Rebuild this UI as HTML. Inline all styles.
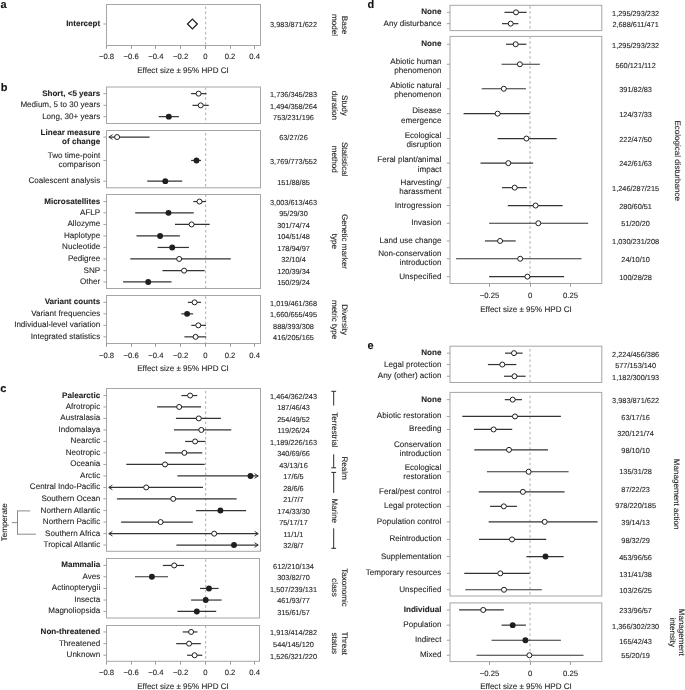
<!DOCTYPE html>
<html><head><meta charset="utf-8"><title>Figure</title>
<style>
html,body{margin:0;padding:0;background:#fff;}
body{width:685px;height:690px;overflow:hidden;}
svg{display:block;font-family:"Liberation Sans",sans-serif;filter:grayscale(1);text-rendering:geometricPrecision;}
text{stroke:#231f20;stroke-width:0.1px;}
</style></head>
<body>
<svg width="685" height="690" viewBox="0 0 685 690">
<rect x="0" y="0" width="685" height="690" fill="#fff"/>
<rect x="106.50" y="4.50" width="154.00" height="41.00" fill="none" stroke="#a6a6a6" stroke-width="1.0"/>
<line x1="205.70" y1="5.00" x2="205.70" y2="45.00" stroke="#acacac" stroke-width="1.0" stroke-dasharray="2.6,2.50" stroke-dashoffset="3.70"/>
<line x1="103.40" y1="24.00" x2="106.50" y2="24.00" stroke="#9a9a9a" stroke-width="0.9"/>
<line x1="192.40" y1="24.00" x2="192.40" y2="24.00" stroke="#333333" stroke-width="1.2"/>
<polygon points="192.40,19.10 197.30,24.00 192.40,28.90 187.50,24.00" fill="#fff" stroke="#1f1f1f" stroke-width="1.25"/>
<text x="100.20" y="26.00" font-size="8.07" text-anchor="end" font-weight="bold" fill="#231f20">Intercept</text>
<text x="293.50" y="27.35" font-size="7.35" text-anchor="middle" fill="#231f20">3,983/871/622</text>
<line x1="106.50" y1="45.50" x2="106.50" y2="48.80" stroke="#9a9a9a" stroke-width="1.0"/>
<text x="106.50" y="59.20" font-size="7.7" text-anchor="middle" fill="#231f20">−0.8</text>
<line x1="131.50" y1="45.50" x2="131.50" y2="48.80" stroke="#9a9a9a" stroke-width="1.0"/>
<text x="131.20" y="59.20" font-size="7.7" text-anchor="middle" fill="#231f20">−0.6</text>
<line x1="155.50" y1="45.50" x2="155.50" y2="48.80" stroke="#9a9a9a" stroke-width="1.0"/>
<text x="155.90" y="59.20" font-size="7.7" text-anchor="middle" fill="#231f20">−0.4</text>
<line x1="180.50" y1="45.50" x2="180.50" y2="48.80" stroke="#9a9a9a" stroke-width="1.0"/>
<text x="180.60" y="59.20" font-size="7.7" text-anchor="middle" fill="#231f20">−0.2</text>
<line x1="205.50" y1="45.50" x2="205.50" y2="48.80" stroke="#9a9a9a" stroke-width="1.0"/>
<text x="205.40" y="59.20" font-size="7.7" text-anchor="middle" fill="#231f20">0</text>
<line x1="230.50" y1="45.50" x2="230.50" y2="48.80" stroke="#9a9a9a" stroke-width="1.0"/>
<text x="230.00" y="59.20" font-size="7.7" text-anchor="middle" fill="#231f20">0.2</text>
<line x1="254.50" y1="45.50" x2="254.50" y2="48.80" stroke="#9a9a9a" stroke-width="1.0"/>
<text x="254.70" y="59.20" font-size="7.7" text-anchor="middle" fill="#231f20">0.4</text>
<text x="183.00" y="72.60" font-size="8.07" text-anchor="middle" fill="#231f20">Effect size ± 95% HPD CI</text>
<rect x="106.50" y="87.00" width="154.00" height="36.50" fill="none" stroke="#a6a6a6" stroke-width="1.0"/>
<line x1="205.70" y1="87.50" x2="205.70" y2="123.00" stroke="#acacac" stroke-width="1.0" stroke-dasharray="2.6,2.50" stroke-dashoffset="0.40"/>
<rect x="106.50" y="130.50" width="154.00" height="57.30" fill="none" stroke="#a6a6a6" stroke-width="1.0"/>
<line x1="205.70" y1="131.00" x2="205.70" y2="187.30" stroke="#acacac" stroke-width="1.0" stroke-dasharray="2.6,2.50" stroke-dashoffset="3.10"/>
<rect x="106.50" y="194.50" width="154.00" height="94.00" fill="none" stroke="#a6a6a6" stroke-width="1.0"/>
<line x1="205.70" y1="195.00" x2="205.70" y2="288.00" stroke="#acacac" stroke-width="1.0" stroke-dasharray="2.6,2.50" stroke-dashoffset="0.80"/>
<rect x="106.50" y="295.50" width="154.00" height="48.00" fill="none" stroke="#a6a6a6" stroke-width="1.0"/>
<line x1="205.70" y1="296.00" x2="205.70" y2="343.00" stroke="#acacac" stroke-width="1.0" stroke-dasharray="2.6,2.50" stroke-dashoffset="4.90"/>
<line x1="103.40" y1="93.65" x2="106.50" y2="93.65" stroke="#9a9a9a" stroke-width="0.9"/>
<line x1="191.10" y1="93.65" x2="206.50" y2="93.65" stroke="#333333" stroke-width="1.2"/>
<circle cx="198.60" cy="93.65" r="2.5" fill="#fff" stroke="#1f1f1f" stroke-width="1.0"/>
<text x="100.20" y="95.65" font-size="8.07" text-anchor="end" font-weight="bold" fill="#231f20">Short, &lt;5 years</text>
<text x="293.50" y="97.00" font-size="7.35" text-anchor="middle" fill="#231f20">1,736/345/283</text>
<line x1="103.40" y1="105.35" x2="106.50" y2="105.35" stroke="#9a9a9a" stroke-width="0.9"/>
<line x1="192.50" y1="105.35" x2="208.70" y2="105.35" stroke="#333333" stroke-width="1.2"/>
<circle cx="200.70" cy="105.35" r="2.5" fill="#fff" stroke="#1f1f1f" stroke-width="1.0"/>
<text x="100.20" y="107.35" font-size="8.07" text-anchor="end" fill="#231f20">Medium, 5 to 30 years</text>
<text x="293.50" y="108.70" font-size="7.35" text-anchor="middle" fill="#231f20">1,494/358/264</text>
<line x1="103.40" y1="116.65" x2="106.50" y2="116.65" stroke="#9a9a9a" stroke-width="0.9"/>
<line x1="158.70" y1="116.65" x2="178.90" y2="116.65" stroke="#333333" stroke-width="1.2"/>
<circle cx="168.80" cy="116.65" r="2.95" fill="#1f1f1f"/>
<text x="100.20" y="118.65" font-size="8.07" text-anchor="end" fill="#231f20">Long, 30+ years</text>
<text x="293.50" y="120.00" font-size="7.35" text-anchor="middle" fill="#231f20">753/231/196</text>
<line x1="103.40" y1="137.05" x2="106.50" y2="137.05" stroke="#9a9a9a" stroke-width="0.9"/>
<line x1="108.90" y1="137.05" x2="149.60" y2="137.05" stroke="#333333" stroke-width="1.2"/>
<polyline points="112.50,134.75 108.90,137.05 112.50,139.35" fill="none" stroke="#333333" stroke-width="1"/>
<circle cx="117.10" cy="137.05" r="2.5" fill="#fff" stroke="#1f1f1f" stroke-width="1.0"/>
<text x="100.20" y="134.90" font-size="8.07" text-anchor="end" font-weight="bold" fill="#231f20">Linear measure</text>
<text x="100.20" y="144.30" font-size="8.07" text-anchor="end" font-weight="bold" fill="#231f20">of change</text>
<text x="293.50" y="140.40" font-size="7.35" text-anchor="middle" fill="#231f20">63/27/26</text>
<line x1="103.40" y1="160.45" x2="106.50" y2="160.45" stroke="#9a9a9a" stroke-width="0.9"/>
<line x1="191.10" y1="160.45" x2="201.00" y2="160.45" stroke="#333333" stroke-width="1.2"/>
<circle cx="196.50" cy="160.45" r="2.95" fill="#1f1f1f"/>
<text x="100.20" y="158.00" font-size="8.07" text-anchor="end" fill="#231f20">Two time-point</text>
<text x="100.20" y="167.40" font-size="8.07" text-anchor="end" fill="#231f20">comparison</text>
<text x="293.50" y="163.80" font-size="7.35" text-anchor="middle" fill="#231f20">3,769/773/552</text>
<line x1="103.40" y1="181.15" x2="106.50" y2="181.15" stroke="#9a9a9a" stroke-width="0.9"/>
<line x1="147.20" y1="181.15" x2="182.20" y2="181.15" stroke="#333333" stroke-width="1.2"/>
<circle cx="165.30" cy="181.15" r="2.95" fill="#1f1f1f"/>
<text x="100.20" y="183.15" font-size="8.07" text-anchor="end" fill="#231f20">Coalescent analysis</text>
<text x="293.50" y="184.50" font-size="7.35" text-anchor="middle" fill="#231f20">151/88/85</text>
<line x1="103.40" y1="201.55" x2="106.50" y2="201.55" stroke="#9a9a9a" stroke-width="0.9"/>
<line x1="193.30" y1="201.55" x2="206.00" y2="201.55" stroke="#333333" stroke-width="1.2"/>
<circle cx="199.50" cy="201.55" r="2.5" fill="#fff" stroke="#1f1f1f" stroke-width="1.0"/>
<text x="100.20" y="203.55" font-size="8.07" text-anchor="end" font-weight="bold" fill="#231f20">Microsatellites</text>
<text x="293.50" y="204.90" font-size="7.35" text-anchor="middle" fill="#231f20">3,003/613/463</text>
<line x1="103.40" y1="212.85" x2="106.50" y2="212.85" stroke="#9a9a9a" stroke-width="0.9"/>
<line x1="135.20" y1="212.85" x2="193.80" y2="212.85" stroke="#333333" stroke-width="1.2"/>
<circle cx="168.50" cy="212.85" r="2.95" fill="#1f1f1f"/>
<text x="100.20" y="214.85" font-size="8.07" text-anchor="end" fill="#231f20">AFLP</text>
<text x="293.50" y="216.20" font-size="7.35" text-anchor="middle" fill="#231f20">95/29/30</text>
<line x1="103.40" y1="224.45" x2="106.50" y2="224.45" stroke="#9a9a9a" stroke-width="0.9"/>
<line x1="175.00" y1="224.45" x2="209.70" y2="224.45" stroke="#333333" stroke-width="1.2"/>
<circle cx="191.60" cy="224.45" r="2.5" fill="#fff" stroke="#1f1f1f" stroke-width="1.0"/>
<text x="100.20" y="226.45" font-size="8.07" text-anchor="end" fill="#231f20">Allozyme</text>
<text x="293.50" y="227.80" font-size="7.35" text-anchor="middle" fill="#231f20">301/74/74</text>
<line x1="103.40" y1="235.95" x2="106.50" y2="235.95" stroke="#9a9a9a" stroke-width="0.9"/>
<line x1="136.50" y1="235.95" x2="179.90" y2="235.95" stroke="#333333" stroke-width="1.2"/>
<circle cx="160.10" cy="235.95" r="2.95" fill="#1f1f1f"/>
<text x="100.20" y="237.95" font-size="8.07" text-anchor="end" fill="#231f20">Haplotype</text>
<text x="293.50" y="239.30" font-size="7.35" text-anchor="middle" fill="#231f20">104/51/48</text>
<line x1="103.40" y1="247.45" x2="106.50" y2="247.45" stroke="#9a9a9a" stroke-width="0.9"/>
<line x1="157.60" y1="247.45" x2="188.90" y2="247.45" stroke="#333333" stroke-width="1.2"/>
<circle cx="172.20" cy="247.45" r="2.95" fill="#1f1f1f"/>
<text x="100.20" y="249.45" font-size="8.07" text-anchor="end" fill="#231f20">Nucleotide</text>
<text x="293.50" y="250.80" font-size="7.35" text-anchor="middle" fill="#231f20">178/94/97</text>
<line x1="103.40" y1="258.95" x2="106.50" y2="258.95" stroke="#9a9a9a" stroke-width="0.9"/>
<line x1="130.30" y1="258.95" x2="230.80" y2="258.95" stroke="#333333" stroke-width="1.2"/>
<circle cx="179.20" cy="258.95" r="2.5" fill="#fff" stroke="#1f1f1f" stroke-width="1.0"/>
<text x="100.20" y="260.95" font-size="8.07" text-anchor="end" fill="#231f20">Pedigree</text>
<text x="293.50" y="262.30" font-size="7.35" text-anchor="middle" fill="#231f20">32/10/4</text>
<line x1="103.40" y1="270.65" x2="106.50" y2="270.65" stroke="#9a9a9a" stroke-width="0.9"/>
<line x1="162.50" y1="270.65" x2="204.70" y2="270.65" stroke="#333333" stroke-width="1.2"/>
<circle cx="184.10" cy="270.65" r="2.5" fill="#fff" stroke="#1f1f1f" stroke-width="1.0"/>
<text x="100.20" y="272.65" font-size="8.07" text-anchor="end" fill="#231f20">SNP</text>
<text x="293.50" y="274.00" font-size="7.35" text-anchor="middle" fill="#231f20">120/39/34</text>
<line x1="103.40" y1="281.95" x2="106.50" y2="281.95" stroke="#9a9a9a" stroke-width="0.9"/>
<line x1="123.10" y1="281.95" x2="171.50" y2="281.95" stroke="#333333" stroke-width="1.2"/>
<circle cx="148.20" cy="281.95" r="2.95" fill="#1f1f1f"/>
<text x="100.20" y="283.95" font-size="8.07" text-anchor="end" fill="#231f20">Other</text>
<text x="293.50" y="285.30" font-size="7.35" text-anchor="middle" fill="#231f20">150/29/24</text>
<line x1="103.40" y1="302.35" x2="106.50" y2="302.35" stroke="#9a9a9a" stroke-width="0.9"/>
<line x1="187.90" y1="302.35" x2="201.00" y2="302.35" stroke="#333333" stroke-width="1.2"/>
<circle cx="194.60" cy="302.35" r="2.5" fill="#fff" stroke="#1f1f1f" stroke-width="1.0"/>
<text x="100.20" y="304.35" font-size="8.07" text-anchor="end" font-weight="bold" fill="#231f20">Variant counts</text>
<text x="293.50" y="305.70" font-size="7.35" text-anchor="middle" fill="#231f20">1,019/461/368</text>
<line x1="103.40" y1="313.85" x2="106.50" y2="313.85" stroke="#9a9a9a" stroke-width="0.9"/>
<line x1="181.40" y1="313.85" x2="193.10" y2="313.85" stroke="#333333" stroke-width="1.2"/>
<circle cx="187.10" cy="313.85" r="2.95" fill="#1f1f1f"/>
<text x="100.20" y="315.85" font-size="8.07" text-anchor="end" fill="#231f20">Variant frequencies</text>
<text x="293.50" y="317.20" font-size="7.35" text-anchor="middle" fill="#231f20">1,660/655/495</text>
<line x1="103.40" y1="325.35" x2="106.50" y2="325.35" stroke="#9a9a9a" stroke-width="0.9"/>
<line x1="191.30" y1="325.35" x2="206.00" y2="325.35" stroke="#333333" stroke-width="1.2"/>
<circle cx="198.30" cy="325.35" r="2.5" fill="#fff" stroke="#1f1f1f" stroke-width="1.0"/>
<text x="100.20" y="327.35" font-size="8.07" text-anchor="end" fill="#231f20">Individual-level variation</text>
<text x="293.50" y="328.70" font-size="7.35" text-anchor="middle" fill="#231f20">888/393/308</text>
<line x1="103.40" y1="336.85" x2="106.50" y2="336.85" stroke="#9a9a9a" stroke-width="0.9"/>
<line x1="184.40" y1="336.85" x2="206.20" y2="336.85" stroke="#333333" stroke-width="1.2"/>
<circle cx="195.60" cy="336.85" r="2.5" fill="#fff" stroke="#1f1f1f" stroke-width="1.0"/>
<text x="100.20" y="338.85" font-size="8.07" text-anchor="end" fill="#231f20">Integrated statistics</text>
<text x="293.50" y="340.20" font-size="7.35" text-anchor="middle" fill="#231f20">416/205/165</text>
<line x1="106.50" y1="343.50" x2="106.50" y2="346.80" stroke="#9a9a9a" stroke-width="1.0"/>
<text x="106.50" y="357.60" font-size="7.7" text-anchor="middle" fill="#231f20">−0.8</text>
<line x1="131.50" y1="343.50" x2="131.50" y2="346.80" stroke="#9a9a9a" stroke-width="1.0"/>
<text x="131.20" y="357.60" font-size="7.7" text-anchor="middle" fill="#231f20">−0.6</text>
<line x1="155.50" y1="343.50" x2="155.50" y2="346.80" stroke="#9a9a9a" stroke-width="1.0"/>
<text x="155.90" y="357.60" font-size="7.7" text-anchor="middle" fill="#231f20">−0.4</text>
<line x1="180.50" y1="343.50" x2="180.50" y2="346.80" stroke="#9a9a9a" stroke-width="1.0"/>
<text x="180.60" y="357.60" font-size="7.7" text-anchor="middle" fill="#231f20">−0.2</text>
<line x1="205.50" y1="343.50" x2="205.50" y2="346.80" stroke="#9a9a9a" stroke-width="1.0"/>
<text x="205.40" y="357.60" font-size="7.7" text-anchor="middle" fill="#231f20">0</text>
<line x1="230.50" y1="343.50" x2="230.50" y2="346.80" stroke="#9a9a9a" stroke-width="1.0"/>
<text x="230.00" y="357.60" font-size="7.7" text-anchor="middle" fill="#231f20">0.2</text>
<line x1="254.50" y1="343.50" x2="254.50" y2="346.80" stroke="#9a9a9a" stroke-width="1.0"/>
<text x="254.70" y="357.60" font-size="7.7" text-anchor="middle" fill="#231f20">0.4</text>
<text x="183.00" y="371.30" font-size="8.07" text-anchor="middle" fill="#231f20">Effect size ± 95% HPD CI</text>
<rect x="106.50" y="388.50" width="154.00" height="162.80" fill="none" stroke="#a6a6a6" stroke-width="1.0"/>
<line x1="205.70" y1="389.00" x2="205.70" y2="550.80" stroke="#acacac" stroke-width="1.0" stroke-dasharray="2.6,2.50" stroke-dashoffset="3.10"/>
<rect x="106.50" y="558.50" width="153.00" height="59.50" fill="none" stroke="#a6a6a6" stroke-width="1.0"/>
<line x1="205.70" y1="559.00" x2="205.70" y2="617.50" stroke="#acacac" stroke-width="1.0" stroke-dasharray="2.6,2.50" stroke-dashoffset="4.80"/>
<rect x="106.50" y="625.50" width="153.00" height="35.80" fill="none" stroke="#a6a6a6" stroke-width="1.0"/>
<line x1="205.70" y1="626.00" x2="205.70" y2="660.80" stroke="#acacac" stroke-width="1.0" stroke-dasharray="2.6,2.50" stroke-dashoffset="0.40"/>
<line x1="103.40" y1="395.55" x2="106.50" y2="395.55" stroke="#9a9a9a" stroke-width="0.9"/>
<line x1="181.40" y1="395.55" x2="197.30" y2="395.55" stroke="#333333" stroke-width="1.2"/>
<circle cx="190.10" cy="395.55" r="2.5" fill="#fff" stroke="#1f1f1f" stroke-width="1.0"/>
<text x="100.20" y="397.55" font-size="8.07" text-anchor="end" font-weight="bold" fill="#231f20">Palearctic</text>
<text x="293.50" y="398.90" font-size="7.35" text-anchor="middle" fill="#231f20">1,464/362/243</text>
<line x1="103.40" y1="406.95" x2="106.50" y2="406.95" stroke="#9a9a9a" stroke-width="0.9"/>
<line x1="157.10" y1="406.95" x2="201.00" y2="406.95" stroke="#333333" stroke-width="1.2"/>
<circle cx="179.20" cy="406.95" r="2.5" fill="#fff" stroke="#1f1f1f" stroke-width="1.0"/>
<text x="100.20" y="408.95" font-size="8.07" text-anchor="end" fill="#231f20">Afrotropic</text>
<text x="293.50" y="410.30" font-size="7.35" text-anchor="middle" fill="#231f20">187/46/43</text>
<line x1="103.40" y1="418.45" x2="106.50" y2="418.45" stroke="#9a9a9a" stroke-width="0.9"/>
<line x1="175.90" y1="418.45" x2="220.90" y2="418.45" stroke="#333333" stroke-width="1.2"/>
<circle cx="198.80" cy="418.45" r="2.5" fill="#fff" stroke="#1f1f1f" stroke-width="1.0"/>
<text x="100.20" y="420.45" font-size="8.07" text-anchor="end" fill="#231f20">Australasia</text>
<text x="293.50" y="421.80" font-size="7.35" text-anchor="middle" fill="#231f20">254/49/52</text>
<line x1="103.40" y1="429.95" x2="106.50" y2="429.95" stroke="#9a9a9a" stroke-width="0.9"/>
<line x1="174.00" y1="429.95" x2="231.30" y2="429.95" stroke="#333333" stroke-width="1.2"/>
<circle cx="201.30" cy="429.95" r="2.5" fill="#fff" stroke="#1f1f1f" stroke-width="1.0"/>
<text x="100.20" y="431.95" font-size="8.07" text-anchor="end" fill="#231f20">Indomalaya</text>
<text x="293.50" y="433.30" font-size="7.35" text-anchor="middle" fill="#231f20">119/26/24</text>
<line x1="103.40" y1="441.45" x2="106.50" y2="441.45" stroke="#9a9a9a" stroke-width="0.9"/>
<line x1="185.10" y1="441.45" x2="205.50" y2="441.45" stroke="#333333" stroke-width="1.2"/>
<circle cx="195.10" cy="441.45" r="2.5" fill="#fff" stroke="#1f1f1f" stroke-width="1.0"/>
<text x="100.20" y="443.45" font-size="8.07" text-anchor="end" fill="#231f20">Nearctic</text>
<text x="293.50" y="444.80" font-size="7.35" text-anchor="middle" fill="#231f20">1,189/226/163</text>
<line x1="103.40" y1="452.85" x2="106.50" y2="452.85" stroke="#9a9a9a" stroke-width="0.9"/>
<line x1="165.00" y1="452.85" x2="202.30" y2="452.85" stroke="#333333" stroke-width="1.2"/>
<circle cx="184.40" cy="452.85" r="2.5" fill="#fff" stroke="#1f1f1f" stroke-width="1.0"/>
<text x="100.20" y="454.85" font-size="8.07" text-anchor="end" fill="#231f20">Neotropic</text>
<text x="293.50" y="456.20" font-size="7.35" text-anchor="middle" fill="#231f20">340/69/66</text>
<line x1="103.40" y1="464.45" x2="106.50" y2="464.45" stroke="#9a9a9a" stroke-width="0.9"/>
<line x1="126.30" y1="464.45" x2="204.70" y2="464.45" stroke="#333333" stroke-width="1.2"/>
<circle cx="165.00" cy="464.45" r="2.5" fill="#fff" stroke="#1f1f1f" stroke-width="1.0"/>
<text x="100.20" y="466.45" font-size="8.07" text-anchor="end" fill="#231f20">Oceania</text>
<text x="293.50" y="467.80" font-size="7.35" text-anchor="middle" fill="#231f20">43/13/16</text>
<line x1="103.40" y1="475.95" x2="106.50" y2="475.95" stroke="#9a9a9a" stroke-width="0.9"/>
<line x1="177.40" y1="475.95" x2="258.20" y2="475.95" stroke="#333333" stroke-width="1.2"/>
<polyline points="254.60,473.65 258.20,475.95 254.60,478.25" fill="none" stroke="#333333" stroke-width="1"/>
<circle cx="250.50" cy="475.95" r="2.95" fill="#1f1f1f"/>
<text x="100.20" y="477.95" font-size="8.07" text-anchor="end" fill="#231f20">Arctic</text>
<text x="293.50" y="479.30" font-size="7.35" text-anchor="middle" fill="#231f20">17/6/5</text>
<line x1="103.40" y1="487.45" x2="106.50" y2="487.45" stroke="#9a9a9a" stroke-width="0.9"/>
<line x1="108.80" y1="487.45" x2="203.00" y2="487.45" stroke="#333333" stroke-width="1.2"/>
<polyline points="112.40,485.15 108.80,487.45 112.40,489.75" fill="none" stroke="#333333" stroke-width="1"/>
<circle cx="146.20" cy="487.45" r="2.5" fill="#fff" stroke="#1f1f1f" stroke-width="1.0"/>
<text x="100.20" y="489.45" font-size="8.07" text-anchor="end" fill="#231f20">Central Indo-Pacific</text>
<text x="293.50" y="490.80" font-size="7.35" text-anchor="middle" fill="#231f20">28/6/6</text>
<line x1="103.40" y1="498.85" x2="106.50" y2="498.85" stroke="#9a9a9a" stroke-width="0.9"/>
<line x1="116.90" y1="498.85" x2="236.60" y2="498.85" stroke="#333333" stroke-width="1.2"/>
<circle cx="173.20" cy="498.85" r="2.5" fill="#fff" stroke="#1f1f1f" stroke-width="1.0"/>
<text x="100.20" y="500.85" font-size="8.07" text-anchor="end" fill="#231f20">Southern Ocean</text>
<text x="293.50" y="502.20" font-size="7.35" text-anchor="middle" fill="#231f20">21/7/7</text>
<line x1="103.40" y1="510.55" x2="106.50" y2="510.55" stroke="#9a9a9a" stroke-width="0.9"/>
<line x1="196.10" y1="510.55" x2="246.00" y2="510.55" stroke="#333333" stroke-width="1.2"/>
<circle cx="220.40" cy="510.55" r="2.95" fill="#1f1f1f"/>
<text x="100.20" y="512.55" font-size="8.07" text-anchor="end" fill="#231f20">Northern Atlantic</text>
<text x="293.50" y="513.90" font-size="7.35" text-anchor="middle" fill="#231f20">174/33/30</text>
<line x1="103.40" y1="522.05" x2="106.50" y2="522.05" stroke="#9a9a9a" stroke-width="0.9"/>
<line x1="121.10" y1="522.05" x2="192.80" y2="522.05" stroke="#333333" stroke-width="1.2"/>
<circle cx="160.60" cy="522.05" r="2.5" fill="#fff" stroke="#1f1f1f" stroke-width="1.0"/>
<text x="100.20" y="524.05" font-size="8.07" text-anchor="end" fill="#231f20">Northern Pacific</text>
<text x="293.50" y="525.40" font-size="7.35" text-anchor="middle" fill="#231f20">75/17/17</text>
<line x1="103.40" y1="533.65" x2="106.50" y2="533.65" stroke="#9a9a9a" stroke-width="0.9"/>
<line x1="108.80" y1="533.65" x2="258.20" y2="533.65" stroke="#333333" stroke-width="1.2"/>
<polyline points="112.40,531.35 108.80,533.65 112.40,535.95" fill="none" stroke="#333333" stroke-width="1"/>
<polyline points="254.60,531.35 258.20,533.65 254.60,535.95" fill="none" stroke="#333333" stroke-width="1"/>
<circle cx="214.20" cy="533.65" r="2.5" fill="#fff" stroke="#1f1f1f" stroke-width="1.0"/>
<text x="100.20" y="535.65" font-size="8.07" text-anchor="end" fill="#231f20">Southern Africa</text>
<text x="293.50" y="537.00" font-size="7.35" text-anchor="middle" fill="#231f20">11/1/1</text>
<line x1="103.40" y1="545.05" x2="106.50" y2="545.05" stroke="#9a9a9a" stroke-width="0.9"/>
<line x1="176.40" y1="545.05" x2="258.20" y2="545.05" stroke="#333333" stroke-width="1.2"/>
<polyline points="254.60,542.75 258.20,545.05 254.60,547.35" fill="none" stroke="#333333" stroke-width="1"/>
<circle cx="234.00" cy="545.05" r="2.95" fill="#1f1f1f"/>
<text x="100.20" y="547.05" font-size="8.07" text-anchor="end" fill="#231f20">Tropical Atlantic</text>
<text x="293.50" y="548.40" font-size="7.35" text-anchor="middle" fill="#231f20">32/8/7</text>
<line x1="103.40" y1="565.45" x2="106.50" y2="565.45" stroke="#9a9a9a" stroke-width="0.9"/>
<line x1="162.80" y1="565.45" x2="184.10" y2="565.45" stroke="#333333" stroke-width="1.2"/>
<circle cx="174.20" cy="565.45" r="2.5" fill="#fff" stroke="#1f1f1f" stroke-width="1.0"/>
<text x="100.20" y="567.45" font-size="8.07" text-anchor="end" font-weight="bold" fill="#231f20">Mammalia</text>
<text x="293.50" y="568.80" font-size="7.35" text-anchor="middle" fill="#231f20">612/210/134</text>
<line x1="103.40" y1="576.75" x2="106.50" y2="576.75" stroke="#9a9a9a" stroke-width="0.9"/>
<line x1="135.00" y1="576.75" x2="168.00" y2="576.75" stroke="#333333" stroke-width="1.2"/>
<circle cx="151.90" cy="576.75" r="2.95" fill="#1f1f1f"/>
<text x="100.20" y="578.75" font-size="8.07" text-anchor="end" fill="#231f20">Aves</text>
<text x="293.50" y="580.10" font-size="7.35" text-anchor="middle" fill="#231f20">303/82/70</text>
<line x1="103.40" y1="588.45" x2="106.50" y2="588.45" stroke="#9a9a9a" stroke-width="0.9"/>
<line x1="200.00" y1="588.45" x2="218.60" y2="588.45" stroke="#333333" stroke-width="1.2"/>
<circle cx="209.00" cy="588.45" r="2.95" fill="#1f1f1f"/>
<text x="100.20" y="590.45" font-size="8.07" text-anchor="end" fill="#231f20">Actinopterygii</text>
<text x="293.50" y="591.80" font-size="7.35" text-anchor="middle" fill="#231f20">1,507/239/131</text>
<line x1="103.40" y1="600.05" x2="106.50" y2="600.05" stroke="#9a9a9a" stroke-width="0.9"/>
<line x1="191.10" y1="600.05" x2="221.60" y2="600.05" stroke="#333333" stroke-width="1.2"/>
<circle cx="205.70" cy="600.05" r="2.95" fill="#1f1f1f"/>
<text x="100.20" y="602.05" font-size="8.07" text-anchor="end" fill="#231f20">Insecta</text>
<text x="293.50" y="603.40" font-size="7.35" text-anchor="middle" fill="#231f20">461/93/77</text>
<line x1="103.40" y1="611.45" x2="106.50" y2="611.45" stroke="#9a9a9a" stroke-width="0.9"/>
<line x1="177.40" y1="611.45" x2="216.20" y2="611.45" stroke="#333333" stroke-width="1.2"/>
<circle cx="196.80" cy="611.45" r="2.95" fill="#1f1f1f"/>
<text x="100.20" y="613.45" font-size="8.07" text-anchor="end" fill="#231f20">Magnoliopsida</text>
<text x="293.50" y="614.80" font-size="7.35" text-anchor="middle" fill="#231f20">315/61/57</text>
<line x1="103.40" y1="631.95" x2="106.50" y2="631.95" stroke="#9a9a9a" stroke-width="0.9"/>
<line x1="182.70" y1="631.95" x2="197.50" y2="631.95" stroke="#333333" stroke-width="1.2"/>
<circle cx="191.10" cy="631.95" r="2.5" fill="#fff" stroke="#1f1f1f" stroke-width="1.0"/>
<text x="100.20" y="633.95" font-size="8.07" text-anchor="end" font-weight="bold" fill="#231f20">Non-threatened</text>
<text x="293.50" y="635.30" font-size="7.35" text-anchor="middle" fill="#231f20">1,913/414/282</text>
<line x1="103.40" y1="643.65" x2="106.50" y2="643.65" stroke="#9a9a9a" stroke-width="0.9"/>
<line x1="176.20" y1="643.65" x2="200.80" y2="643.65" stroke="#333333" stroke-width="1.2"/>
<circle cx="189.10" cy="643.65" r="2.5" fill="#fff" stroke="#1f1f1f" stroke-width="1.0"/>
<text x="100.20" y="645.65" font-size="8.07" text-anchor="end" fill="#231f20">Threatened</text>
<text x="293.50" y="647.00" font-size="7.35" text-anchor="middle" fill="#231f20">544/145/120</text>
<line x1="103.40" y1="655.25" x2="106.50" y2="655.25" stroke="#9a9a9a" stroke-width="0.9"/>
<line x1="187.10" y1="655.25" x2="202.30" y2="655.25" stroke="#333333" stroke-width="1.2"/>
<circle cx="194.60" cy="655.25" r="2.5" fill="#fff" stroke="#1f1f1f" stroke-width="1.0"/>
<text x="100.20" y="657.25" font-size="8.07" text-anchor="end" fill="#231f20">Unknown</text>
<text x="293.50" y="658.60" font-size="7.35" text-anchor="middle" fill="#231f20">1,526/321/220</text>
<line x1="106.50" y1="661.30" x2="106.50" y2="664.60" stroke="#9a9a9a" stroke-width="1.0"/>
<text x="106.50" y="675.00" font-size="7.7" text-anchor="middle" fill="#231f20">−0.8</text>
<line x1="131.50" y1="661.30" x2="131.50" y2="664.60" stroke="#9a9a9a" stroke-width="1.0"/>
<text x="131.20" y="675.00" font-size="7.7" text-anchor="middle" fill="#231f20">−0.6</text>
<line x1="155.50" y1="661.30" x2="155.50" y2="664.60" stroke="#9a9a9a" stroke-width="1.0"/>
<text x="155.90" y="675.00" font-size="7.7" text-anchor="middle" fill="#231f20">−0.4</text>
<line x1="180.50" y1="661.30" x2="180.50" y2="664.60" stroke="#9a9a9a" stroke-width="1.0"/>
<text x="180.60" y="675.00" font-size="7.7" text-anchor="middle" fill="#231f20">−0.2</text>
<line x1="205.50" y1="661.30" x2="205.50" y2="664.60" stroke="#9a9a9a" stroke-width="1.0"/>
<text x="205.40" y="675.00" font-size="7.7" text-anchor="middle" fill="#231f20">0</text>
<line x1="230.50" y1="661.30" x2="230.50" y2="664.60" stroke="#9a9a9a" stroke-width="1.0"/>
<text x="230.00" y="675.00" font-size="7.7" text-anchor="middle" fill="#231f20">0.2</text>
<line x1="254.50" y1="661.30" x2="254.50" y2="664.60" stroke="#9a9a9a" stroke-width="1.0"/>
<text x="254.70" y="675.00" font-size="7.7" text-anchor="middle" fill="#231f20">0.4</text>
<text x="183.00" y="688.60" font-size="8.07" text-anchor="middle" fill="#231f20">Effect size ± 95% HPD CI</text>
<rect x="450.00" y="5.30" width="151.80" height="25.30" fill="none" stroke="#a6a6a6" stroke-width="1.0"/>
<line x1="530.00" y1="5.80" x2="530.00" y2="30.10" stroke="#acacac" stroke-width="1.0" stroke-dasharray="2.6,2.40" stroke-dashoffset="4.70"/>
<rect x="450.00" y="36.40" width="151.80" height="247.10" fill="none" stroke="#a6a6a6" stroke-width="1.0"/>
<line x1="530.00" y1="36.90" x2="530.00" y2="283.00" stroke="#acacac" stroke-width="1.0" stroke-dasharray="2.6,2.40" stroke-dashoffset="0.80"/>
<line x1="446.80" y1="12.35" x2="450.00" y2="12.35" stroke="#9a9a9a" stroke-width="0.9"/>
<line x1="504.50" y1="12.35" x2="526.60" y2="12.35" stroke="#333333" stroke-width="1.2"/>
<circle cx="516.00" cy="12.35" r="2.5" fill="#fff" stroke="#1f1f1f" stroke-width="1.0"/>
<text x="441.40" y="14.35" font-size="8.07" text-anchor="end" font-weight="bold" fill="#231f20">None</text>
<text x="635.60" y="16.10" font-size="7.35" text-anchor="middle" fill="#231f20">1,295/293/232</text>
<line x1="446.80" y1="23.65" x2="450.00" y2="23.65" stroke="#9a9a9a" stroke-width="0.9"/>
<line x1="502.00" y1="23.65" x2="518.40" y2="23.65" stroke="#333333" stroke-width="1.2"/>
<circle cx="510.70" cy="23.65" r="2.5" fill="#fff" stroke="#1f1f1f" stroke-width="1.0"/>
<text x="441.40" y="25.65" font-size="8.07" text-anchor="end" fill="#231f20">Any disturbance</text>
<text x="635.60" y="27.20" font-size="7.35" text-anchor="middle" fill="#231f20">2,688/611/471</text>
<line x1="446.80" y1="44.25" x2="450.00" y2="44.25" stroke="#9a9a9a" stroke-width="0.9"/>
<line x1="506.00" y1="44.25" x2="526.40" y2="44.25" stroke="#333333" stroke-width="1.2"/>
<circle cx="515.70" cy="44.25" r="2.5" fill="#fff" stroke="#1f1f1f" stroke-width="1.0"/>
<text x="441.40" y="46.25" font-size="8.07" text-anchor="end" font-weight="bold" fill="#231f20">None</text>
<text x="635.60" y="47.80" font-size="7.35" text-anchor="middle" fill="#231f20">1,295/293/232</text>
<line x1="446.80" y1="64.25" x2="450.00" y2="64.25" stroke="#9a9a9a" stroke-width="0.9"/>
<line x1="501.60" y1="64.25" x2="539.80" y2="64.25" stroke="#333333" stroke-width="1.2"/>
<circle cx="519.90" cy="64.25" r="2.5" fill="#fff" stroke="#1f1f1f" stroke-width="1.0"/>
<text x="441.40" y="63.70" font-size="8.07" text-anchor="end" fill="#231f20">Abiotic human</text>
<text x="441.40" y="73.10" font-size="8.07" text-anchor="end" fill="#231f20">phenomenon</text>
<text x="635.60" y="67.80" font-size="7.35" text-anchor="middle" fill="#231f20">560/121/112</text>
<line x1="446.80" y1="88.75" x2="450.00" y2="88.75" stroke="#9a9a9a" stroke-width="0.9"/>
<line x1="481.70" y1="88.75" x2="525.90" y2="88.75" stroke="#333333" stroke-width="1.2"/>
<circle cx="503.80" cy="88.75" r="2.5" fill="#fff" stroke="#1f1f1f" stroke-width="1.0"/>
<text x="441.40" y="88.00" font-size="8.07" text-anchor="end" fill="#231f20">Abiotic natural</text>
<text x="441.40" y="97.40" font-size="8.07" text-anchor="end" fill="#231f20">phenomenon</text>
<text x="635.60" y="92.20" font-size="7.35" text-anchor="middle" fill="#231f20">391/82/83</text>
<line x1="446.80" y1="113.65" x2="450.00" y2="113.65" stroke="#9a9a9a" stroke-width="0.9"/>
<line x1="463.60" y1="113.65" x2="529.80" y2="113.65" stroke="#333333" stroke-width="1.2"/>
<circle cx="497.60" cy="113.65" r="2.5" fill="#fff" stroke="#1f1f1f" stroke-width="1.0"/>
<text x="441.40" y="113.10" font-size="8.07" text-anchor="end" fill="#231f20">Disease</text>
<text x="441.40" y="122.50" font-size="8.07" text-anchor="end" fill="#231f20">emergence</text>
<text x="635.60" y="116.70" font-size="7.35" text-anchor="middle" fill="#231f20">124/37/33</text>
<line x1="446.80" y1="138.55" x2="450.00" y2="138.55" stroke="#9a9a9a" stroke-width="0.9"/>
<line x1="497.60" y1="138.55" x2="556.70" y2="138.55" stroke="#333333" stroke-width="1.2"/>
<circle cx="526.40" cy="138.55" r="2.5" fill="#fff" stroke="#1f1f1f" stroke-width="1.0"/>
<text x="441.40" y="137.60" font-size="8.07" text-anchor="end" fill="#231f20">Ecological</text>
<text x="441.40" y="147.00" font-size="8.07" text-anchor="end" fill="#231f20">disruption</text>
<text x="635.60" y="141.70" font-size="7.35" text-anchor="middle" fill="#231f20">222/47/50</text>
<line x1="446.80" y1="163.15" x2="450.00" y2="163.15" stroke="#9a9a9a" stroke-width="0.9"/>
<line x1="480.50" y1="163.15" x2="533.10" y2="163.15" stroke="#333333" stroke-width="1.2"/>
<circle cx="508.30" cy="163.15" r="2.5" fill="#fff" stroke="#1f1f1f" stroke-width="1.0"/>
<text x="441.40" y="162.20" font-size="8.07" text-anchor="end" fill="#231f20">Feral plant/animal</text>
<text x="441.40" y="171.60" font-size="8.07" text-anchor="end" fill="#231f20">impact</text>
<text x="635.60" y="166.10" font-size="7.35" text-anchor="middle" fill="#231f20">242/61/63</text>
<line x1="446.80" y1="187.65" x2="450.00" y2="187.65" stroke="#9a9a9a" stroke-width="0.9"/>
<line x1="502.00" y1="187.65" x2="526.90" y2="187.65" stroke="#333333" stroke-width="1.2"/>
<circle cx="514.70" cy="187.65" r="2.5" fill="#fff" stroke="#1f1f1f" stroke-width="1.0"/>
<text x="441.40" y="185.00" font-size="8.07" text-anchor="end" fill="#231f20">Harvesting/</text>
<text x="441.40" y="194.40" font-size="8.07" text-anchor="end" fill="#231f20">harassment</text>
<text x="635.60" y="190.90" font-size="7.35" text-anchor="middle" fill="#231f20">1,246/287/215</text>
<line x1="446.80" y1="205.55" x2="450.00" y2="205.55" stroke="#9a9a9a" stroke-width="0.9"/>
<line x1="507.80" y1="205.55" x2="562.60" y2="205.55" stroke="#333333" stroke-width="1.2"/>
<circle cx="535.60" cy="205.55" r="2.5" fill="#fff" stroke="#1f1f1f" stroke-width="1.0"/>
<text x="441.40" y="207.55" font-size="8.07" text-anchor="end" fill="#231f20">Introgression</text>
<text x="635.60" y="208.90" font-size="7.35" text-anchor="middle" fill="#231f20">280/60/51</text>
<line x1="446.80" y1="223.25" x2="450.00" y2="223.25" stroke="#9a9a9a" stroke-width="0.9"/>
<line x1="489.10" y1="223.25" x2="588.20" y2="223.25" stroke="#333333" stroke-width="1.2"/>
<circle cx="538.30" cy="223.25" r="2.5" fill="#fff" stroke="#1f1f1f" stroke-width="1.0"/>
<text x="441.40" y="225.25" font-size="8.07" text-anchor="end" fill="#231f20">Invasion</text>
<text x="635.60" y="226.30" font-size="7.35" text-anchor="middle" fill="#231f20">51/20/20</text>
<line x1="446.80" y1="240.95" x2="450.00" y2="240.95" stroke="#9a9a9a" stroke-width="0.9"/>
<line x1="484.90" y1="240.95" x2="515.70" y2="240.95" stroke="#333333" stroke-width="1.2"/>
<circle cx="500.10" cy="240.95" r="2.5" fill="#fff" stroke="#1f1f1f" stroke-width="1.0"/>
<text x="441.40" y="242.95" font-size="8.07" text-anchor="end" fill="#231f20">Land use change</text>
<text x="635.60" y="244.10" font-size="7.35" text-anchor="middle" fill="#231f20">1,030/231/208</text>
<line x1="446.80" y1="258.75" x2="450.00" y2="258.75" stroke="#9a9a9a" stroke-width="0.9"/>
<line x1="456.10" y1="258.75" x2="581.50" y2="258.75" stroke="#333333" stroke-width="1.2"/>
<circle cx="520.20" cy="258.75" r="2.5" fill="#fff" stroke="#1f1f1f" stroke-width="1.0"/>
<text x="441.40" y="256.00" font-size="8.07" text-anchor="end" fill="#231f20">Non-conservation</text>
<text x="441.40" y="265.40" font-size="8.07" text-anchor="end" fill="#231f20">introduction</text>
<text x="635.60" y="262.20" font-size="7.35" text-anchor="middle" fill="#231f20">24/10/10</text>
<line x1="446.80" y1="276.65" x2="450.00" y2="276.65" stroke="#9a9a9a" stroke-width="0.9"/>
<line x1="489.10" y1="276.65" x2="564.10" y2="276.65" stroke="#333333" stroke-width="1.2"/>
<circle cx="527.40" cy="276.65" r="2.5" fill="#fff" stroke="#1f1f1f" stroke-width="1.0"/>
<text x="441.40" y="278.65" font-size="8.07" text-anchor="end" fill="#231f20">Unspecified</text>
<text x="635.60" y="280.00" font-size="7.35" text-anchor="middle" fill="#231f20">100/28/28</text>
<line x1="489.50" y1="283.50" x2="489.50" y2="286.80" stroke="#9a9a9a" stroke-width="1.0"/>
<text x="489.50" y="298.20" font-size="7.7" text-anchor="middle" fill="#231f20">−0.25</text>
<line x1="530.50" y1="283.50" x2="530.50" y2="286.80" stroke="#9a9a9a" stroke-width="1.0"/>
<text x="530.20" y="298.20" font-size="7.7" text-anchor="middle" fill="#231f20">0</text>
<line x1="570.50" y1="283.50" x2="570.50" y2="286.80" stroke="#9a9a9a" stroke-width="1.0"/>
<text x="570.50" y="298.20" font-size="7.7" text-anchor="middle" fill="#231f20">0.25</text>
<text x="526.00" y="311.90" font-size="8.07" text-anchor="middle" fill="#231f20">Effect size ± 95% HPD CI</text>
<rect x="450.00" y="346.20" width="151.80" height="36.30" fill="none" stroke="#a6a6a6" stroke-width="1.0"/>
<line x1="530.00" y1="346.70" x2="530.00" y2="382.00" stroke="#acacac" stroke-width="1.0" stroke-dasharray="2.6,2.57" stroke-dashoffset="2.87"/>
<rect x="450.00" y="392.40" width="151.80" height="203.60" fill="none" stroke="#a6a6a6" stroke-width="1.0"/>
<line x1="530.00" y1="392.90" x2="530.00" y2="595.50" stroke="#acacac" stroke-width="1.0" stroke-dasharray="2.6,2.57" stroke-dashoffset="2.54"/>
<rect x="450.00" y="602.90" width="151.80" height="58.70" fill="none" stroke="#a6a6a6" stroke-width="1.0"/>
<line x1="530.00" y1="603.40" x2="530.00" y2="661.10" stroke="#acacac" stroke-width="1.0" stroke-dasharray="2.6,2.57" stroke-dashoffset="1.07"/>
<line x1="446.80" y1="353.15" x2="450.00" y2="353.15" stroke="#9a9a9a" stroke-width="0.9"/>
<line x1="505.00" y1="353.15" x2="522.60" y2="353.15" stroke="#333333" stroke-width="1.2"/>
<circle cx="514.00" cy="353.15" r="2.5" fill="#fff" stroke="#1f1f1f" stroke-width="1.0"/>
<text x="441.40" y="355.15" font-size="8.07" text-anchor="end" font-weight="bold" fill="#231f20">None</text>
<text x="635.60" y="356.70" font-size="7.35" text-anchor="middle" fill="#231f20">2,224/456/386</text>
<line x1="446.80" y1="364.55" x2="450.00" y2="364.55" stroke="#9a9a9a" stroke-width="0.9"/>
<line x1="487.90" y1="364.55" x2="516.40" y2="364.55" stroke="#333333" stroke-width="1.2"/>
<circle cx="502.30" cy="364.55" r="2.5" fill="#fff" stroke="#1f1f1f" stroke-width="1.0"/>
<text x="441.40" y="366.55" font-size="8.07" text-anchor="end" fill="#231f20">Legal protection</text>
<text x="635.60" y="368.30" font-size="7.35" text-anchor="middle" fill="#231f20">577/153/140</text>
<line x1="446.80" y1="376.25" x2="450.00" y2="376.25" stroke="#9a9a9a" stroke-width="0.9"/>
<line x1="504.00" y1="376.25" x2="525.60" y2="376.25" stroke="#333333" stroke-width="1.2"/>
<circle cx="514.50" cy="376.25" r="2.5" fill="#fff" stroke="#1f1f1f" stroke-width="1.0"/>
<text x="441.40" y="378.25" font-size="8.07" text-anchor="end" fill="#231f20">Any (other) action</text>
<text x="635.60" y="380.00" font-size="7.35" text-anchor="middle" fill="#231f20">1,182/300/193</text>
<line x1="446.80" y1="399.65" x2="450.00" y2="399.65" stroke="#9a9a9a" stroke-width="0.9"/>
<line x1="504.80" y1="399.65" x2="521.90" y2="399.65" stroke="#333333" stroke-width="1.2"/>
<circle cx="512.70" cy="399.65" r="2.5" fill="#fff" stroke="#1f1f1f" stroke-width="1.0"/>
<text x="441.40" y="401.65" font-size="8.07" text-anchor="end" font-weight="bold" fill="#231f20">None</text>
<text x="635.60" y="403.10" font-size="7.35" text-anchor="middle" fill="#231f20">3,983/871/622</text>
<line x1="446.80" y1="416.45" x2="450.00" y2="416.45" stroke="#9a9a9a" stroke-width="0.9"/>
<line x1="462.30" y1="416.45" x2="560.90" y2="416.45" stroke="#333333" stroke-width="1.2"/>
<circle cx="515.00" cy="416.45" r="2.5" fill="#fff" stroke="#1f1f1f" stroke-width="1.0"/>
<text x="441.40" y="418.45" font-size="8.07" text-anchor="end" fill="#231f20">Abiotic restoration</text>
<text x="635.60" y="420.10" font-size="7.35" text-anchor="middle" fill="#231f20">63/17/16</text>
<line x1="446.80" y1="429.45" x2="450.00" y2="429.45" stroke="#9a9a9a" stroke-width="0.9"/>
<line x1="474.00" y1="429.45" x2="512.20" y2="429.45" stroke="#333333" stroke-width="1.2"/>
<circle cx="493.60" cy="429.45" r="2.5" fill="#fff" stroke="#1f1f1f" stroke-width="1.0"/>
<text x="441.40" y="431.45" font-size="8.07" text-anchor="end" fill="#231f20">Breeding</text>
<text x="635.60" y="435.90" font-size="7.35" text-anchor="middle" fill="#231f20">320/121/74</text>
<line x1="446.80" y1="449.85" x2="450.00" y2="449.85" stroke="#9a9a9a" stroke-width="0.9"/>
<line x1="474.30" y1="449.85" x2="548.00" y2="449.85" stroke="#333333" stroke-width="1.2"/>
<circle cx="509.00" cy="449.85" r="2.5" fill="#fff" stroke="#1f1f1f" stroke-width="1.0"/>
<text x="441.40" y="447.00" font-size="8.07" text-anchor="end" fill="#231f20">Conservation</text>
<text x="441.40" y="456.40" font-size="8.07" text-anchor="end" fill="#231f20">introduction</text>
<text x="635.60" y="453.40" font-size="7.35" text-anchor="middle" fill="#231f20">98/10/10</text>
<line x1="446.80" y1="471.75" x2="450.00" y2="471.75" stroke="#9a9a9a" stroke-width="0.9"/>
<line x1="486.90" y1="471.75" x2="568.60" y2="471.75" stroke="#333333" stroke-width="1.2"/>
<circle cx="528.60" cy="471.75" r="2.5" fill="#fff" stroke="#1f1f1f" stroke-width="1.0"/>
<text x="441.40" y="469.80" font-size="8.07" text-anchor="end" fill="#231f20">Ecological</text>
<text x="441.40" y="479.20" font-size="8.07" text-anchor="end" fill="#231f20">restoration</text>
<text x="635.60" y="473.50" font-size="7.35" text-anchor="middle" fill="#231f20">135/31/28</text>
<line x1="446.80" y1="491.85" x2="450.00" y2="491.85" stroke="#9a9a9a" stroke-width="0.9"/>
<line x1="478.70" y1="491.85" x2="564.60" y2="491.85" stroke="#333333" stroke-width="1.2"/>
<circle cx="522.90" cy="491.85" r="2.5" fill="#fff" stroke="#1f1f1f" stroke-width="1.0"/>
<text x="441.40" y="493.85" font-size="8.07" text-anchor="end" fill="#231f20">Feral/pest control</text>
<text x="635.60" y="492.10" font-size="7.35" text-anchor="middle" fill="#231f20">87/22/23</text>
<line x1="446.80" y1="506.35" x2="450.00" y2="506.35" stroke="#9a9a9a" stroke-width="0.9"/>
<line x1="490.10" y1="506.35" x2="516.90" y2="506.35" stroke="#333333" stroke-width="1.2"/>
<circle cx="503.80" cy="506.35" r="2.5" fill="#fff" stroke="#1f1f1f" stroke-width="1.0"/>
<text x="441.40" y="508.35" font-size="8.07" text-anchor="end" fill="#231f20">Legal protection</text>
<text x="635.60" y="508.10" font-size="7.35" text-anchor="middle" fill="#231f20">978/220/185</text>
<line x1="446.80" y1="521.85" x2="450.00" y2="521.85" stroke="#9a9a9a" stroke-width="0.9"/>
<line x1="488.60" y1="521.85" x2="597.60" y2="521.85" stroke="#333333" stroke-width="1.2"/>
<circle cx="544.70" cy="521.85" r="2.5" fill="#fff" stroke="#1f1f1f" stroke-width="1.0"/>
<text x="441.40" y="523.85" font-size="8.07" text-anchor="end" fill="#231f20">Population control</text>
<text x="635.60" y="525.40" font-size="7.35" text-anchor="middle" fill="#231f20">39/14/13</text>
<line x1="446.80" y1="539.45" x2="450.00" y2="539.45" stroke="#9a9a9a" stroke-width="0.9"/>
<line x1="479.00" y1="539.45" x2="546.20" y2="539.45" stroke="#333333" stroke-width="1.2"/>
<circle cx="512.00" cy="539.45" r="2.5" fill="#fff" stroke="#1f1f1f" stroke-width="1.0"/>
<text x="441.40" y="541.45" font-size="8.07" text-anchor="end" fill="#231f20">Reintroduction</text>
<text x="635.60" y="542.90" font-size="7.35" text-anchor="middle" fill="#231f20">98/32/29</text>
<line x1="446.80" y1="556.55" x2="450.00" y2="556.55" stroke="#9a9a9a" stroke-width="0.9"/>
<line x1="526.40" y1="556.55" x2="563.60" y2="556.55" stroke="#333333" stroke-width="1.2"/>
<circle cx="545.50" cy="556.55" r="2.95" fill="#1f1f1f"/>
<text x="441.40" y="558.55" font-size="8.07" text-anchor="end" fill="#231f20">Supplementation</text>
<text x="635.60" y="559.70" font-size="7.35" text-anchor="middle" fill="#231f20">453/96/56</text>
<line x1="446.80" y1="573.35" x2="450.00" y2="573.35" stroke="#9a9a9a" stroke-width="0.9"/>
<line x1="464.30" y1="573.35" x2="529.80" y2="573.35" stroke="#333333" stroke-width="1.2"/>
<circle cx="500.30" cy="573.35" r="2.5" fill="#fff" stroke="#1f1f1f" stroke-width="1.0"/>
<text x="441.40" y="575.35" font-size="8.07" text-anchor="end" fill="#231f20">Temporary resources</text>
<text x="635.60" y="577.10" font-size="7.35" text-anchor="middle" fill="#231f20">131/41/38</text>
<line x1="446.80" y1="589.75" x2="450.00" y2="589.75" stroke="#9a9a9a" stroke-width="0.9"/>
<line x1="465.30" y1="589.75" x2="541.80" y2="589.75" stroke="#333333" stroke-width="1.2"/>
<circle cx="504.00" cy="589.75" r="2.5" fill="#fff" stroke="#1f1f1f" stroke-width="1.0"/>
<text x="441.40" y="591.75" font-size="8.07" text-anchor="end" fill="#231f20">Unspecified</text>
<text x="635.60" y="593.00" font-size="7.35" text-anchor="middle" fill="#231f20">103/26/25</text>
<line x1="446.80" y1="609.95" x2="450.00" y2="609.95" stroke="#9a9a9a" stroke-width="0.9"/>
<line x1="459.10" y1="609.95" x2="503.80" y2="609.95" stroke="#333333" stroke-width="1.2"/>
<circle cx="483.20" cy="609.95" r="2.5" fill="#fff" stroke="#1f1f1f" stroke-width="1.0"/>
<text x="441.40" y="611.95" font-size="8.07" text-anchor="end" font-weight="bold" fill="#231f20">Individual</text>
<text x="635.60" y="613.30" font-size="7.35" text-anchor="middle" fill="#231f20">233/96/57</text>
<line x1="446.80" y1="625.15" x2="450.00" y2="625.15" stroke="#9a9a9a" stroke-width="0.9"/>
<line x1="501.60" y1="625.15" x2="525.90" y2="625.15" stroke="#333333" stroke-width="1.2"/>
<circle cx="512.70" cy="625.15" r="2.95" fill="#1f1f1f"/>
<text x="441.40" y="627.15" font-size="8.07" text-anchor="end" fill="#231f20">Population</text>
<text x="635.60" y="628.50" font-size="7.35" text-anchor="middle" fill="#231f20">1,366/302/230</text>
<line x1="446.80" y1="640.25" x2="450.00" y2="640.25" stroke="#9a9a9a" stroke-width="0.9"/>
<line x1="491.60" y1="640.25" x2="560.90" y2="640.25" stroke="#333333" stroke-width="1.2"/>
<circle cx="525.40" cy="640.25" r="2.95" fill="#1f1f1f"/>
<text x="441.40" y="642.25" font-size="8.07" text-anchor="end" fill="#231f20">Indirect</text>
<text x="635.60" y="643.60" font-size="7.35" text-anchor="middle" fill="#231f20">165/42/43</text>
<line x1="446.80" y1="655.25" x2="450.00" y2="655.25" stroke="#9a9a9a" stroke-width="0.9"/>
<line x1="476.50" y1="655.25" x2="583.50" y2="655.25" stroke="#333333" stroke-width="1.2"/>
<circle cx="529.40" cy="655.25" r="2.5" fill="#fff" stroke="#1f1f1f" stroke-width="1.0"/>
<text x="441.40" y="657.25" font-size="8.07" text-anchor="end" fill="#231f20">Mixed</text>
<text x="635.60" y="658.20" font-size="7.35" text-anchor="middle" fill="#231f20">55/20/19</text>
<line x1="489.50" y1="661.60" x2="489.50" y2="664.90" stroke="#9a9a9a" stroke-width="1.0"/>
<text x="489.50" y="676.00" font-size="7.7" text-anchor="middle" fill="#231f20">−0.25</text>
<line x1="530.50" y1="661.60" x2="530.50" y2="664.90" stroke="#9a9a9a" stroke-width="1.0"/>
<text x="530.20" y="676.00" font-size="7.7" text-anchor="middle" fill="#231f20">0</text>
<line x1="570.50" y1="661.60" x2="570.50" y2="664.90" stroke="#9a9a9a" stroke-width="1.0"/>
<text x="570.50" y="676.00" font-size="7.7" text-anchor="middle" fill="#231f20">0.25</text>
<text x="526.00" y="689.00" font-size="8.07" text-anchor="middle" fill="#231f20">Effect size ± 95% HPD CI</text>
<text transform="translate(342.00,25.00) rotate(90)" x="0" y="0" font-size="8.05" text-anchor="middle" fill="#231f20">Base</text>
<text transform="translate(332.20,25.00) rotate(90)" x="0" y="0" font-size="8.05" text-anchor="middle" fill="#231f20">model</text>
<text transform="translate(342.00,105.40) rotate(90)" x="0" y="0" font-size="8.05" text-anchor="middle" fill="#231f20">Study</text>
<text transform="translate(332.20,105.40) rotate(90)" x="0" y="0" font-size="8.05" text-anchor="middle" fill="#231f20">duration</text>
<text transform="translate(342.00,159.20) rotate(90)" x="0" y="0" font-size="8.05" text-anchor="middle" fill="#231f20">Statistical</text>
<text transform="translate(332.20,159.20) rotate(90)" x="0" y="0" font-size="8.05" text-anchor="middle" fill="#231f20">method</text>
<text transform="translate(342.00,241.40) rotate(90)" x="0" y="0" font-size="8.05" text-anchor="middle" fill="#231f20">Genetic marker</text>
<text transform="translate(332.20,241.40) rotate(90)" x="0" y="0" font-size="8.05" text-anchor="middle" fill="#231f20">type</text>
<text transform="translate(342.00,319.60) rotate(90)" x="0" y="0" font-size="8.05" text-anchor="middle" fill="#231f20">Diversity</text>
<text transform="translate(332.20,319.60) rotate(90)" x="0" y="0" font-size="8.05" text-anchor="middle" fill="#231f20">metric type</text>
<text transform="translate(342.00,468.00) rotate(90)" x="0" y="0" font-size="8.05" text-anchor="middle" fill="#231f20">Realm</text>
<text transform="translate(332.20,429.90) rotate(90)" x="0" y="0" font-size="8.05" text-anchor="middle" fill="#231f20">Terrestrial</text>
<text transform="translate(332.20,510.80) rotate(90)" x="0" y="0" font-size="8.05" text-anchor="middle" fill="#231f20">Marine</text>
<text transform="translate(342.00,587.50) rotate(90)" x="0" y="0" font-size="8.05" text-anchor="middle" fill="#231f20">Taxonomic</text>
<text transform="translate(332.20,587.50) rotate(90)" x="0" y="0" font-size="8.05" text-anchor="middle" fill="#231f20">class</text>
<text transform="translate(342.00,643.30) rotate(90)" x="0" y="0" font-size="8.05" text-anchor="middle" fill="#231f20">Threat</text>
<text transform="translate(332.20,643.30) rotate(90)" x="0" y="0" font-size="8.05" text-anchor="middle" fill="#231f20">status</text>
<text transform="translate(675.00,160.70) rotate(90)" x="0" y="0" font-size="8.05" text-anchor="middle" fill="#231f20">Ecological disturbance</text>
<text transform="translate(673.50,494.20) rotate(90)" x="0" y="0" font-size="8.05" text-anchor="middle" fill="#231f20">Management action</text>
<text transform="translate(678.80,632.20) rotate(90)" x="0" y="0" font-size="8.05" text-anchor="middle" fill="#231f20">Management</text>
<text transform="translate(669.80,632.20) rotate(90)" x="0" y="0" font-size="8.05" text-anchor="middle" fill="#231f20">intensity</text>
<line x1="333.70" y1="391.30" x2="333.70" y2="405.50" stroke="#2a2a2a" stroke-width="1.0"/>
<line x1="333.70" y1="454.30" x2="333.70" y2="467.80" stroke="#2a2a2a" stroke-width="1.0"/>
<line x1="331.30" y1="391.30" x2="336.10" y2="391.30" stroke="#2a2a2a" stroke-width="1.0"/>
<line x1="331.30" y1="467.80" x2="336.10" y2="467.80" stroke="#2a2a2a" stroke-width="1.0"/>
<line x1="333.70" y1="472.40" x2="333.70" y2="492.90" stroke="#2a2a2a" stroke-width="1.0"/>
<line x1="333.70" y1="528.30" x2="333.70" y2="548.30" stroke="#2a2a2a" stroke-width="1.0"/>
<line x1="331.30" y1="472.40" x2="336.10" y2="472.40" stroke="#2a2a2a" stroke-width="1.0"/>
<line x1="331.30" y1="548.30" x2="336.10" y2="548.30" stroke="#2a2a2a" stroke-width="1.0"/>
<line x1="17.50" y1="510.90" x2="17.50" y2="534.20" stroke="#8a8a8a" stroke-width="1.0"/>
<line x1="17.00" y1="510.90" x2="30.20" y2="510.90" stroke="#8a8a8a" stroke-width="1.0"/>
<line x1="17.00" y1="534.20" x2="35.90" y2="534.20" stroke="#8a8a8a" stroke-width="1.0"/>
<line x1="11.80" y1="522.60" x2="17.50" y2="522.60" stroke="#8a8a8a" stroke-width="1.0"/>
<text transform="translate(7.00,522.30) rotate(-90)" x="0" y="0" font-size="8.05" text-anchor="middle" fill="#231f20">Temperate</text>
<text x="0.50" y="7.90" font-size="11" text-anchor="start" font-weight="bold" fill="#111">a</text>
<text x="0.80" y="90.50" font-size="11" text-anchor="start" font-weight="bold" fill="#111">b</text>
<text x="0.30" y="391.90" font-size="11" text-anchor="start" font-weight="bold" fill="#111">c</text>
<text x="367.50" y="7.90" font-size="11" text-anchor="start" font-weight="bold" fill="#111">d</text>
<text x="367.60" y="348.90" font-size="11" text-anchor="start" font-weight="bold" fill="#111">e</text>
</svg>
</body></html>
